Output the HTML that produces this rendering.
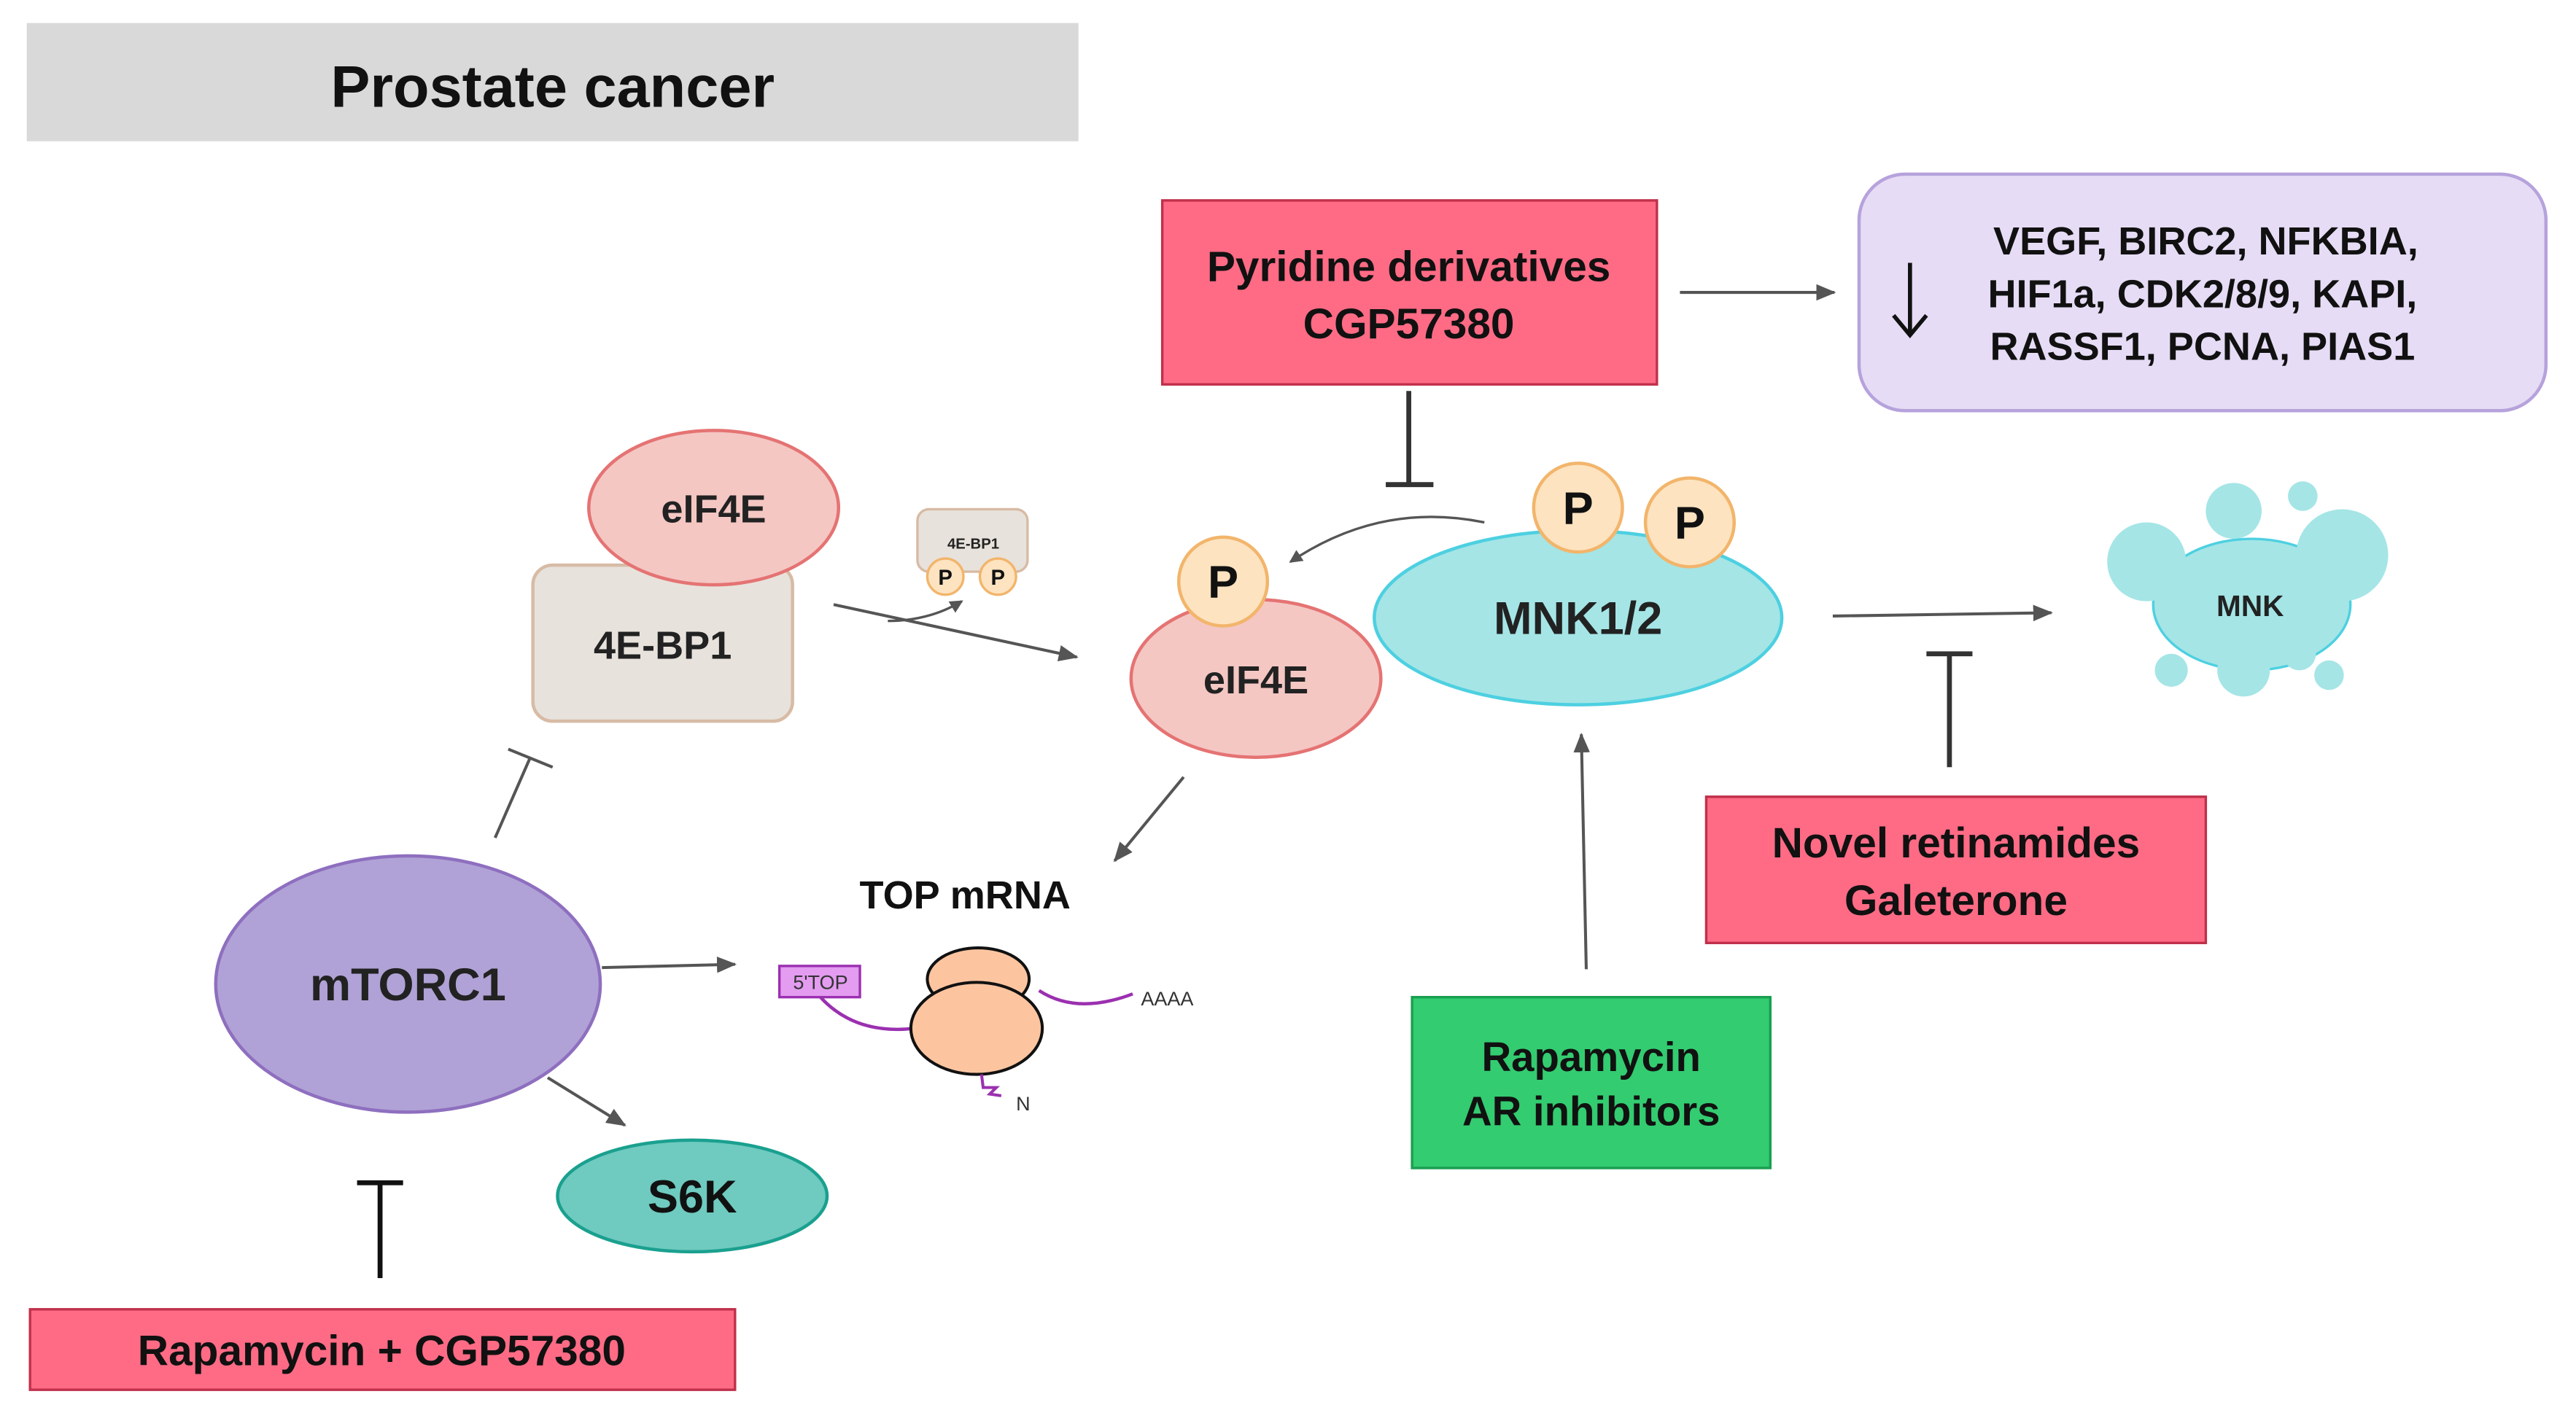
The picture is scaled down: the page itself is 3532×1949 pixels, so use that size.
<!DOCTYPE html>
<html><head><meta charset="utf-8"><style>html,body{margin:0;padding:0;background:#fff}svg{display:block}</style></head>
<body>
<svg width="3532" height="1949" viewBox="0 0 1567 865" xmlns="http://www.w3.org/2000/svg" font-family="Liberation Sans, Arial, sans-serif" font-weight="bold">
<defs>
<marker id="ah" markerWidth="8" markerHeight="8" refX="7" refY="4" orient="auto" markerUnits="userSpaceOnUse"><path d="M0,0 L8,4 L0,8 Z" fill="#555"/></marker>
<marker id="ah2" markerWidth="12" markerHeight="10" refX="11" refY="5" orient="auto" markerUnits="userSpaceOnUse"><path d="M0,0 L12,5 L0,10 Z" fill="#555"/></marker>
</defs>
<rect width="1567" height="865" fill="#fff"/>
<rect x="16" y="14" width="640" height="72" fill="#d9d9d9"/>
<text x="336" y="65" font-size="36" text-anchor="middle" fill="#111">Prostate cancer</text>

<rect x="707" y="122" width="301" height="112" fill="#ff6b85" stroke="#c0304a" stroke-width="1.5"/>
<text x="857" y="171" font-size="26" text-anchor="middle" fill="#111">Pyridine  derivatives</text>
<text x="857" y="206" font-size="26" text-anchor="middle" fill="#111">CGP57380</text>
<line x1="1022" y1="178" x2="1116" y2="178" stroke="#555" stroke-width="1.8" marker-end="url(#ah2)"/>
<rect x="1131" y="106" width="418" height="144" rx="28" fill="#e6dcf5" stroke="#b6a2dc" stroke-width="2"/>
<line x1="1162" y1="160" x2="1162" y2="203" stroke="#111" stroke-width="2.5"/>
<path d="M1152,192 L1162,204 L1172,192" fill="none" stroke="#111" stroke-width="2.5"/>
<text x="1342" y="155" font-size="24" text-anchor="middle" fill="#111">VEGF, BIRC2, NFKBIA,</text>
<text x="1340" y="187" font-size="24" text-anchor="middle" fill="#111">HIF1a, CDK2/8/9, KAPI,</text>
<text x="1340" y="219" font-size="24" text-anchor="middle" fill="#111">RASSF1, PCNA, PIAS1</text>
<line x1="857" y1="238" x2="857" y2="295" stroke="#333" stroke-width="3"/>
<line x1="843" y1="295" x2="872" y2="295" stroke="#333" stroke-width="3"/>

<rect x="324" y="344" width="158" height="95" rx="12" fill="#e8e2dc" stroke="#d7bba5" stroke-width="2"/>
<text x="403" y="401" font-size="24" text-anchor="middle" fill="#222">4E-BP1</text>
<ellipse cx="434" cy="309" rx="76" ry="47" fill="#f4c7c3" stroke="#e57373" stroke-width="2"/>
<text x="434" y="318" font-size="24" text-anchor="middle" fill="#222">eIF4E</text>
<rect x="558" y="310" width="67" height="38" rx="7" fill="#e8e2dc" stroke="#d7bba5" stroke-width="1.5"/>
<text x="592" y="334" font-size="9" text-anchor="middle" fill="#222">4E-BP1</text>
<circle cx="575" cy="351" r="11" fill="#fde3c0" stroke="#f2b56b" stroke-width="1.5"/>
<text x="575" y="356" font-size="13" text-anchor="middle" fill="#111">P</text>
<circle cx="607" cy="351" r="11" fill="#fde3c0" stroke="#f2b56b" stroke-width="1.5"/>
<text x="607" y="356" font-size="13" text-anchor="middle" fill="#111">P</text>
<line x1="507" y1="368" x2="655" y2="400" stroke="#555" stroke-width="1.8" marker-end="url(#ah2)"/>
<path d="M540,378 Q565,378 585,366" fill="none" stroke="#555" stroke-width="1.5" marker-end="url(#ah)"/>

<ellipse cx="764" cy="413" rx="76" ry="48" fill="#f4c7c3" stroke="#e57373" stroke-width="2"/>
<text x="764" y="422" font-size="24" text-anchor="middle" fill="#222">eIF4E</text>
<circle cx="744" cy="354" r="27" fill="#fde3c0" stroke="#f2b56b" stroke-width="2"/>
<text x="744" y="364" font-size="28" text-anchor="middle" fill="#111">P</text>

<ellipse cx="960" cy="376" rx="124" ry="53" fill="#a5e5e6" stroke="#4dd0e1" stroke-width="2"/>
<text x="960" y="386" font-size="28" text-anchor="middle" fill="#222">MNK1/2</text>
<circle cx="960" cy="309" r="27" fill="#fde3c0" stroke="#f2b56b" stroke-width="2"/>
<text x="960" y="319" font-size="28" text-anchor="middle" fill="#111">P</text>
<circle cx="1028" cy="318" r="27" fill="#fde3c0" stroke="#f2b56b" stroke-width="2"/>
<text x="1028" y="328" font-size="28" text-anchor="middle" fill="#111">P</text>
<path d="M903,318 Q840,305 785,342" fill="none" stroke="#555" stroke-width="1.5" marker-end="url(#ah)"/>
<line x1="1115" y1="375" x2="1248" y2="373" stroke="#555" stroke-width="1.8" marker-end="url(#ah2)"/>

<g fill="#a5e5e6">
<ellipse cx="1370" cy="368" rx="60" ry="40" stroke="#4dd0e1" stroke-width="1.5"/>
<circle cx="1306" cy="342" r="24"/><circle cx="1425" cy="338" r="28"/><circle cx="1359" cy="311" r="17"/>
<circle cx="1401" cy="302" r="9"/><circle cx="1365" cy="408" r="16"/><circle cx="1321" cy="408" r="10"/>
<circle cx="1417" cy="411" r="9"/><circle cx="1399" cy="398" r="10"/>
</g>
<text x="1369" y="375" font-size="18" text-anchor="middle" fill="#222">MNK</text>
<line x1="1186" y1="467" x2="1186" y2="398" stroke="#333" stroke-width="3"/>
<line x1="1172" y1="398" x2="1200" y2="398" stroke="#333" stroke-width="3"/>
<rect x="1038" y="485" width="304" height="89" fill="#ff6b85" stroke="#c0304a" stroke-width="1.5"/>
<text x="1190" y="522" font-size="26" text-anchor="middle" fill="#111">Novel retinamides</text>
<text x="1190" y="557" font-size="26" text-anchor="middle" fill="#111">Galeterone</text>

<rect x="859" y="607" width="218" height="104" fill="#33cc70" stroke="#1a9e4f" stroke-width="1.5"/>
<text x="968" y="652" font-size="25" text-anchor="middle" fill="#111">Rapamycin</text>
<text x="968" y="685" font-size="25" text-anchor="middle" fill="#111">AR inhibitors</text>
<line x1="965" y1="590" x2="962" y2="447" stroke="#555" stroke-width="1.8" marker-end="url(#ah2)"/>

<line x1="720" y1="473" x2="678" y2="524" stroke="#555" stroke-width="1.8" marker-end="url(#ah2)"/>
<text x="587" y="553" font-size="24" text-anchor="middle" fill="#111">TOP mRNA</text>
<path d="M499,607 Q520,630 556,626" fill="none" stroke="#9b30b0" stroke-width="2"/>
<path d="M632,603 Q655,618 689,605" fill="none" stroke="#9b30b0" stroke-width="2"/>
<ellipse cx="595" cy="596" rx="31" ry="19" fill="#fcc5a0" stroke="#111" stroke-width="1.8"/>
<ellipse cx="594" cy="626" rx="40" ry="28" fill="#fcc5a0" stroke="#111" stroke-width="1.8"/>
<path d="M597,654 L598,662 L606,662 L602,666 L609,667" fill="none" stroke="#9b30b0" stroke-width="1.8"/>
<rect x="474" y="588" width="49" height="19" fill="#e39cf0" stroke="#9b30b0" stroke-width="1.5"/>
<text x="499" y="602" font-size="12" text-anchor="middle" fill="#333" font-weight="normal">5'TOP</text>
<text x="694" y="612" font-size="12" fill="#333" font-weight="normal">AAAA</text>
<text x="618" y="676" font-size="12" fill="#333" font-weight="normal">N</text>

<ellipse cx="248" cy="599" rx="117" ry="78" fill="#b0a2d6" stroke="#8e6fbf" stroke-width="2"/>
<text x="248" y="609" font-size="28" text-anchor="middle" fill="#222">mTORC1</text>
<line x1="301" y1="510" x2="322" y2="462" stroke="#555" stroke-width="1.8"/>
<line x1="309" y1="456" x2="336" y2="467" stroke="#555" stroke-width="1.8"/>
<line x1="366" y1="589" x2="447" y2="587" stroke="#555" stroke-width="1.8" marker-end="url(#ah2)"/>
<line x1="333" y1="656" x2="380" y2="685" stroke="#555" stroke-width="1.8" marker-end="url(#ah2)"/>
<ellipse cx="421" cy="728" rx="82" ry="34" fill="#6fcabf" stroke="#1aa08f" stroke-width="2"/>
<text x="421" y="738" font-size="28" text-anchor="middle" fill="#111">S6K</text>
<line x1="231" y1="778" x2="231" y2="720" stroke="#111" stroke-width="3"/>
<line x1="217" y1="720" x2="245" y2="720" stroke="#111" stroke-width="3"/>
<rect x="18" y="797" width="429" height="49" fill="#ff6b85" stroke="#c0304a" stroke-width="1.5"/>
<text x="232" y="831" font-size="26" text-anchor="middle" fill="#111">Rapamycin + CGP57380</text>
</svg>
</body></html>
